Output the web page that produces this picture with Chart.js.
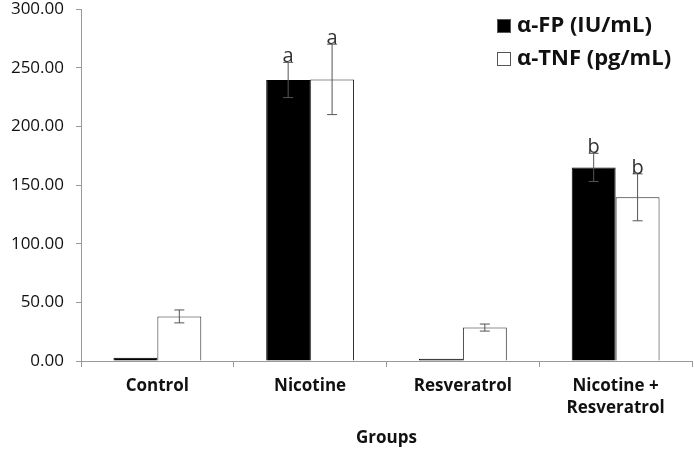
<!DOCTYPE html>
<html>
<head>
<meta charset="utf-8">
<script src="https://cdn.jsdelivr.net/npm/chart.js@4/dist/chart.umd.min.js"></script>
<style>
  html, body { margin: 0; padding: 0; background: #fff; }
  #wrap { width: 694px; height: 449px; }
</style>
</head>
<body>
<div id="wrap"><canvas id="c"></canvas></div>
<script>
const groups = ["Control", "Nicotine", "Resveratrol", ["Nicotine +", "Resveratrol"]];
const afpValues = [2.8, 239.5, 2.0, 165];
const afpErrors = [0, 15, 0, 12];
const tnfValues = [38, 240, 28.5, 139.5];
const tnfErrors = [5.5, 30, 3, 20];
const afpLetters = ["", "a", "", "b"];
const tnfLetters = ["", "a", "", "b"];
const yTicks = [0, 50, 100, 150, 200, 250, 300];

const errorPlugin = {
  id: 'errs',
  afterDatasetsDraw(chart) {
    const ctx = chart.ctx;
    const y = chart.scales.y;
    const errs = [afpErrors, tnfErrors];
    const letters = [afpLetters, tnfLetters];
    ctx.save();
    chart.data.datasets.forEach((ds, di) => {
      chart.getDatasetMeta(di).data.forEach((bar, i) => {
        const e = errs[di][i];
        const v = ds.data[i];
        let top = y.getPixelForValue(v);
        if (e > 0) {
          const yt = y.getPixelForValue(v + e), yb = y.getPixelForValue(v - e);
          ctx.strokeStyle = '#555';
          ctx.lineWidth = 1;
          ctx.beginPath();
          ctx.moveTo(bar.x, yt); ctx.lineTo(bar.x, yb);
          ctx.moveTo(bar.x - 5, yt); ctx.lineTo(bar.x + 5, yt);
          ctx.moveTo(bar.x - 5, yb); ctx.lineTo(bar.x + 5, yb);
          ctx.stroke();
          top = yt;
        }
        if (letters[di][i]) {
          ctx.fillStyle = '#333';
          ctx.font = '20px "Open Sans", sans-serif';
          ctx.textAlign = 'center';
          ctx.textBaseline = 'alphabetic';
          ctx.fillText(letters[di][i], bar.x, top);
        }
      });
    });
    // legend
    const items = [['#000', 'α-FP (IU/mL)'], ['#fff', 'α-TNF (pg/mL)']];
    ctx.font = 'bold 22px "Open Sans", sans-serif';
    ctx.textAlign = 'left';
    ctx.textBaseline = 'middle';
    items.forEach((it, k) => {
      const ly = 26 + k * 33;
      ctx.fillStyle = it[0];
      ctx.fillRect(497, ly - 7, 14, 14);
      ctx.strokeStyle = '#555';
      ctx.lineWidth = 1;
      ctx.strokeRect(497.5, ly - 6.5, 13, 13);
      ctx.fillStyle = '#111';
      ctx.fillText(it[1], 517, ly);
    });
    ctx.restore();
  }
};

new Chart(document.getElementById('c'), {
  type: 'bar',
  data: {
    labels: groups,
    datasets: [
      { label: 'α-FP (IU/mL)', data: afpValues, backgroundColor: '#000', borderColor: '#000', borderWidth: 1 },
      { label: 'α-TNF (pg/mL)', data: tnfValues, backgroundColor: '#fff', borderColor: '#222', borderWidth: 1 }
    ]
  },
  options: {
    responsive: true,
    maintainAspectRatio: false,
    animation: false,
    layout: { padding: { top: 0, right: 2, left: 0, bottom: 0 } },
    plugins: { legend: { display: false }, tooltip: { enabled: false } },
    datasets: { bar: { categoryPercentage: 0.575, barPercentage: 1.0 } },
    scales: {
      x: {
        afterFit(s) { s.height = 88; },
        grid: { offset: true, drawOnChartArea: false, color: '#999', tickLength: 6 },
        border: { color: '#999' },
        ticks: { color: '#111', font: { family: '"Open Sans", sans-serif', size: 17, weight: 'bold', lineHeight: 1.3 }, maxRotation: 0, padding: 8 },
        title: { display: true, text: 'Groups', color: '#111', font: { family: '"Open Sans", sans-serif', size: 17, weight: 'bold' }, padding: { top: 4, bottom: 1 } }
      },
      y: {
        min: 0, max: 300,
        afterFit(s) { s.width = 81; s.paddingTop = 9; s.paddingBottom = 0; },
        afterBuildTicks(s) { s.ticks = yTicks.map(v => ({ value: v })); },
        grid: { drawOnChartArea: false, color: '#999', tickLength: 5 },
        border: { color: '#999' },
        ticks: { color: '#111', font: { family: '"Open Sans", sans-serif', size: 17, lineHeight: 1.0 }, padding: 12, callback: v => v.toFixed(2) }
      }
    }
  },
  plugins: [errorPlugin]
});
</script>
</body>
</html>
